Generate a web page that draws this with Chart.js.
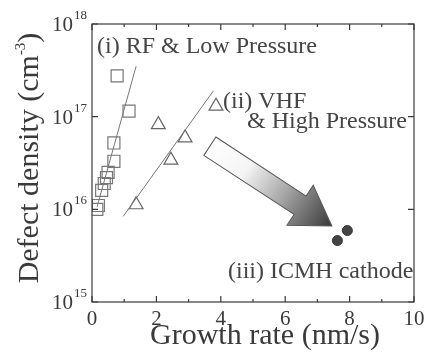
<!DOCTYPE html>
<html>
<head>
<meta charset="utf-8">
<script src="https://cdn.jsdelivr.net/npm/chart.js@4.4.1/dist/chart.umd.min.js"></script>
<style>
  body { margin: 0; background: #fff; }
  canvas { display: block; }
</style>
</head>
<body>
<canvas id="chart" width="429" height="355"></canvas>
<script>
// (i) RF & low pressure
const rfX = [0.15, 0.2, 0.3, 0.38, 0.45, 0.5, 0.68, 0.68, 0.78, 1.15];
const rfY = [1.0e16, 1.1e16, 1.6e16, 1.9e16, 2.2e16, 2.5e16, 3.3e16, 5.2e16, 2.75e17, 1.15e17];
// (ii) VHF & high pressure
const vhfX = [1.37, 2.45, 2.89, 2.06, 3.85];
const vhfY = [1.12e16, 3.4e16, 5.9e16, 8.2e16, 1.3e17];
// (iii) ICMH cathode
const icmhX = [7.62, 7.93];
const icmhY = [4.6e15, 5.9e15];
// fit lines (end points)
const rfFitX = [0.16, 1.37];
const rfFitY = [1.07e16, 3.5e17];
const vhfFitX = [0.97, 3.77];
const vhfFitY = [8.4e15, 1.9e17];
// axis ticks
const xTicks = [0, 2, 4, 6, 8, 10];
const xMinor = [1, 3, 5, 7, 9];
const yExp = [15, 16, 17, 18];

const pts = (xs, ys) => xs.map((x, i) => ({ x: x, y: ys[i] }));
const serif = '"Liberation Serif"';
const ink = '#3a3a3a';

const decor = {
  id: 'decor',
  beforeDatasetsDraw(chart) {
    const ctx = chart.ctx, xs = chart.scales.x, ys = chart.scales.y;
    // big arrow, from tail to tip in data coords
    const x0 = xs.getPixelForValue(3.66), y0 = ys.getPixelForValue(4.8e16);
    const x1 = xs.getPixelForValue(7.45), y1 = ys.getPixelForValue(6.6e15);
    const ang = Math.atan2(y1 - y0, x1 - x0);
    const len = Math.hypot(x1 - x0, y1 - y0);
    const hw = 11, hh = 24, hl = 38;
    ctx.save();
    ctx.translate(x0, y0);
    ctx.rotate(ang);
    const g = ctx.createLinearGradient(0, 0, len, 0);
    g.addColorStop(0, '#ffffff');
    g.addColorStop(0.3, '#f4f4f4');
    g.addColorStop(0.6, '#a8a8a8');
    g.addColorStop(1, '#383838');
    ctx.beginPath();
    ctx.moveTo(0, -hw);
    ctx.lineTo(len - hl, -hw);
    ctx.lineTo(len - hl, -hh);
    ctx.lineTo(len, 0);
    ctx.lineTo(len - hl, hh);
    ctx.lineTo(len - hl, hw);
    ctx.lineTo(0, hw);
    ctx.closePath();
    ctx.fillStyle = g;
    ctx.fill();
    ctx.strokeStyle = '#555';
    ctx.lineWidth = 1;
    ctx.stroke();
    ctx.restore();
  },
  afterDraw(chart) {
    const ctx = chart.ctx, a = chart.chartArea;
    const xs = chart.scales.x, ys = chart.scales.y;
    ctx.save();
    // frame
    ctx.strokeStyle = ink;
    ctx.lineWidth = 1.2;
    ctx.strokeRect(a.left, a.top, a.right - a.left, a.bottom - a.top);
    // ticks, inward on all four sides
    ctx.beginPath();
    xTicks.forEach(v => {
      const p = xs.getPixelForValue(v);
      ctx.moveTo(p, a.bottom); ctx.lineTo(p, a.bottom - 6);
      ctx.moveTo(p, a.top); ctx.lineTo(p, a.top + 6);
    });
    xMinor.forEach(v => {
      const p = xs.getPixelForValue(v);
      ctx.moveTo(p, a.bottom); ctx.lineTo(p, a.bottom - 3);
      ctx.moveTo(p, a.top); ctx.lineTo(p, a.top + 3);
    });
    yExp.forEach(e => {
      const p = ys.getPixelForValue(Math.pow(10, e));
      ctx.moveTo(a.left, p); ctx.lineTo(a.left + 6, p);
      ctx.moveTo(a.right, p); ctx.lineTo(a.right - 6, p);
    });
    ctx.stroke();

    ctx.fillStyle = ink;
    // x tick labels
    ctx.font = '21px ' + serif;
    ctx.textAlign = 'center';
    ctx.textBaseline = 'alphabetic';
    xTicks.forEach(v => ctx.fillText(String(v), xs.getPixelForValue(v), a.bottom + 23));
    // y tick labels 10^n
    yExp.forEach(e => {
      const p = ys.getPixelForValue(Math.pow(10, e));
      ctx.font = '21px ' + serif;
      ctx.textAlign = 'left';
      ctx.fillText('10', 52, p + 7);
      ctx.font = '13px ' + serif;
      ctx.fillText(String(e), 74, p - 5);
    });
    // x title
    ctx.font = '30px ' + serif;
    ctx.textAlign = 'center';
    ctx.fillText('Growth rate (nm/s)', 265, 344);
    // y title
    ctx.save();
    ctx.translate(38, 158);
    ctx.rotate(-Math.PI / 2);
    ctx.font = '30px ' + serif;
    ctx.textAlign = 'left';
    const t1 = 'Defect density (cm';
    const w1 = ctx.measureText(t1).width;
    ctx.font = '15px ' + serif;
    const w2 = ctx.measureText('-3').width;
    ctx.font = '30px ' + serif;
    const w3 = ctx.measureText(')').width;
    const start = -(w1 + w2 + w3) / 2;
    ctx.fillText(t1, start, 0);
    ctx.font = '15px ' + serif;
    ctx.fillText('-3', start + w1, -13);
    ctx.font = '30px ' + serif;
    ctx.fillText(')', start + w1 + w2, 0);
    ctx.restore();
    // annotations
    ctx.font = '24px ' + serif;
    ctx.fillStyle = '#444';
    ctx.textAlign = 'left';
    ctx.fillText('(i) RF & Low Pressure', 97, 53);
    ctx.fillText('(ii) VHF', 223, 108);
    ctx.fillText('& High Pressure', 247, 128);
    ctx.fillText('(iii) ICMH cathode', 228, 278);
    ctx.restore();
  }
};

new Chart(document.getElementById('chart'), {
  type: 'scatter',
  data: {
    datasets: [
      { data: pts(rfFitX, rfFitY), showLine: true, borderColor: '#777', borderWidth: 1, pointRadius: 0 },
      { data: pts(vhfFitX, vhfFitY), showLine: true, borderColor: '#777', borderWidth: 1, pointRadius: 0 },
      { data: pts(rfX, rfY), pointStyle: 'rect', pointRadius: 8.5, borderColor: '#777', borderWidth: 1.2, backgroundColor: 'rgba(255,255,255,0)' },
      { data: pts(vhfX, vhfY), pointStyle: 'triangle', pointRadius: 8, borderColor: '#666', borderWidth: 1.2, backgroundColor: 'rgba(255,255,255,0)' },
      { data: pts(icmhX, icmhY), pointStyle: 'circle', pointRadius: 5, borderColor: '#333', borderWidth: 1, backgroundColor: '#444' }
    ]
  },
  options: {
    responsive: false,
    devicePixelRatio: 1,
    animation: false,
    layout: { padding: { left: 92, right: 15, top: 24, bottom: 53 } },
    plugins: { legend: { display: false }, tooltip: { enabled: false } },
    scales: {
      x: {
        type: 'linear', min: 0, max: 10,
        ticks: { display: false }, grid: { display: false }, border: { display: false },
        afterFit: s => { s.height = 0; }
      },
      y: {
        type: 'logarithmic', min: 1e15, max: 1e18,
        ticks: { display: false }, grid: { display: false }, border: { display: false },
        afterFit: s => { s.width = 0; }
      }
    }
  },
  plugins: [decor]
});
</script>
</body>
</html>
